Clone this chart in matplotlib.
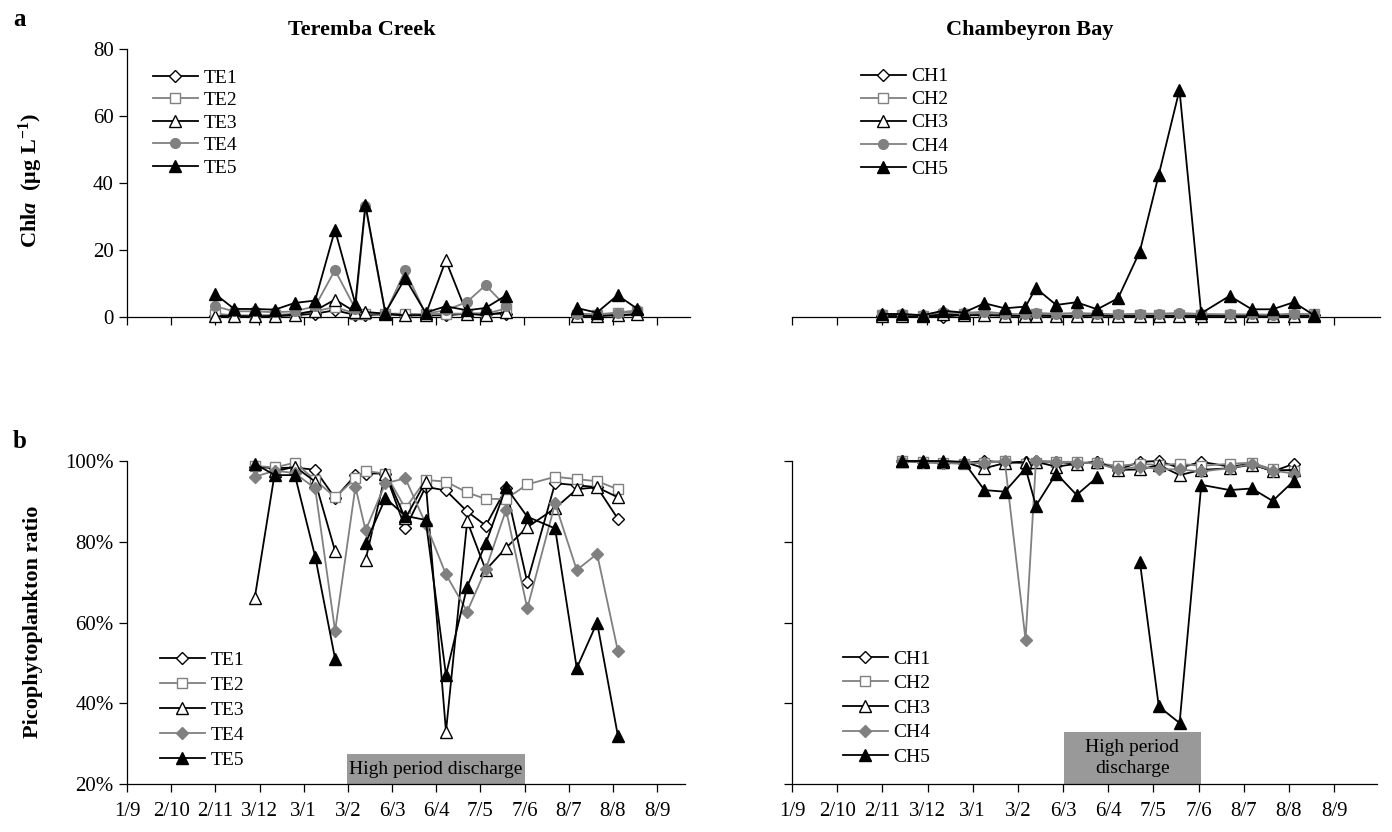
import numpy as np
import matplotlib
matplotlib.use("Agg")
import matplotlib.pyplot as plt
from matplotlib.patches import Rectangle

plt.rcParams["font.family"] = ["Liberation Serif", "DejaVu Serif"]
plt.rcParams["mathtext.fontset"] = "custom"
plt.rcParams["mathtext.rm"] = "Liberation Serif"
plt.rcParams["mathtext.bf"] = "Liberation Serif:bold"
plt.rcParams["mathtext.it"] = "Liberation Serif:italic:bold"

nan = np.nan

# sampling dates, in months after 1 September
DATES = [1.99, 2.43, 2.89, 3.35, 3.80, 4.26, 4.71, 5.17, 5.40, 5.85, 6.30,
         6.76, 7.22, 7.70, 8.12, 8.58, 9.06, 9.69, 10.18, 10.64, 11.11, 11.55]
MONTH_LABELS = ["1/9", "2/10", "2/11", "3/12", "3/1", "3/2", "6/3",
                "6/4", "7/5", "7/6", "8/7", "8/8", "8/9"]

# chl a, Teremba Creek (ug/L)
TE_CHL = {
    "TE1": [0.4, 0.3, 0.3, 0.3, 0.5, 1.0, 2.0, 0.6, 0.6, 0.8, 0.5, 0.5, 0.5, 1.0, 1.0, 1.0, nan, nan, 0.5, 0.5, 0.6, 0.8],
    "TE2": [1.0, 0.5, 0.5, 0.6, 1.0, 1.7, 3.0, 1.0, 1.0, 1.0, 1.0, 0.8, 1.0, 1.0, 1.0, 2.5, nan, nan, 0.6, 0.6, 1.2, 1.5],
    "TE3": [0.2, 0.3, 0.2, 0.3, 0.7, 1.9, 5.2, 1.5, 1.5, 1.0, 0.5, 0.6, 16.9, 1.0, 0.5, 1.5, nan, nan, 0.3, 0.3, 0.5, 0.8],
    "TE4": [3.2, 1.7, 1.7, 1.4, 1.7, 3.2, 14.0, 2.5, 33.0, 1.0, 13.9, 1.0, 2.0, 4.5, 9.5, 3.2, nan, nan, 1.0, 0.8, 1.3, 2.0],
    "TE5": [6.9, 2.4, 2.4, 2.2, 4.2, 4.9, 26.0, 4.0, 33.5, 1.3, 11.6, 1.3, 3.2, 2.0, 2.7, 6.4, nan, nan, 2.7, 1.3, 6.5, 2.5],
}
# chl a, Chambeyron Bay (ug/L)
CH_CHL = {
    "CH1": [0.4, 0.4, 0.3, 0.1, 0.6, 0.5, 0.5, 0.4, 0.5, 0.4, 0.4, 0.5, 0.4, 0.4, 0.4, 0.4, 0.5, 0.4, 0.4, 0.4, 0.5, 0.5],
    "CH2": [0.6, 0.5, 0.4, 1.0, 0.8, 1.0, 0.6, 0.2, 1.0, 0.5, 0.4, 0.6, 0.5, 0.5, 0.5, 0.5, 0.6, 0.5, 0.4, 0.4, 0.6, 0.8],
    "CH3": [0.3, 0.3, 0.2, 0.8, 0.5, 0.6, 0.4, 0.3, 0.4, 0.3, 0.3, 0.4, 0.3, 0.3, 0.3, 0.3, 0.3, 0.3, 0.3, 0.3, 0.3, 0.3],
    "CH4": [1.0, 0.8, 0.6, 1.5, 1.2, 1.6, 1.0, 0.8, 1.2, 1.0, 1.2, 1.0, 0.8, 1.0, 1.0, 1.2, 0.9, 0.8, 0.8, 0.7, 1.0, 0.8],
    "CH5": [0.9, 0.9, 0.5, 1.9, 1.3, 4.1, 2.6, 3.1, 8.6, 3.6, 4.4, 2.3, 5.6, 19.5, 42.4, 67.8, 1.1, 6.3, 2.3, 2.3, 4.4, 0.6],
}
# picophytoplankton ratio, Teremba Creek (%)
TE_PICO = {
    "TE1": [nan, nan, 98.6, 98.2, 98.4, 97.8, 90.8, 96.5, 96.9, 96.9, 83.3, 93.6, 92.7, 87.5, 84.0, 93.2, 70.0, 94.5, 94.0, 93.5, 85.7, nan],
    "TE2": [nan, nan, 98.8, 98.4, 99.6, 95.3, 91.0, 95.7, 97.5, 96.9, 88.3, 95.3, 94.9, 92.2, 90.6, 90.6, 94.2, 96.1, 95.5, 95.0, 93.0, nan],
    "TE3": [nan, nan, 66.0, 97.4, 98.6, 94.9, 77.7, nan, 75.5, 96.9, 85.8, 94.9, 33.0, 85.1, 73.0, 78.5, 83.6, 88.3, 93.0, 93.5, 91.0, nan],
    "TE4": [nan, nan, 96.1, 97.6, 97.0, 93.2, 57.9, 93.6, 82.8, 94.5, 95.7, 84.5, 71.9, 62.7, 73.2, 87.9, 63.5, 89.5, 73.0, 77.0, 53.0, nan],
    "TE5": [nan, nan, 99.3, 96.5, 96.5, 76.3, 51.0, nan, 79.6, 90.8, 86.4, 85.4, 47.0, 68.9, 79.6, 93.5, 86.2, 83.3, 48.7, 60.0, 32.0, nan],
}
# picophytoplankton ratio, Chambeyron Bay (%)
CH_PICO = {
    "CH1": [nan, 100.0, 99.8, 99.5, 99.5, 100.0, 99.7, 99.8, 99.9, 99.8, 99.3, 99.8, 97.8, 99.8, 100.0, 98.3, 99.8, 98.6, 99.3, 97.4, 99.3, nan],
    "CH2": [nan, 100.0, 99.8, 99.5, 99.3, 99.5, 100.0, 99.3, 99.4, 99.8, 99.8, 99.4, 98.8, 99.3, 99.0, 99.3, 98.8, 99.3, 99.6, 97.9, 97.6, nan],
    "CH3": [nan, 100.0, 99.8, 99.7, 99.8, 98.2, 99.5, 99.7, 99.8, 98.6, 99.3, 99.8, 97.8, 97.9, 99.0, 96.5, 97.8, 98.2, 99.1, 97.6, 97.8, nan],
    "CH4": [nan, 100.0, 99.7, 99.5, 99.5, 99.6, 100.0, 55.7, 100.0, 99.8, 99.6, 99.4, 97.9, 98.6, 98.0, 97.9, 97.4, 98.2, 99.3, 97.6, 96.9, nan],
    "CH5": [nan, 100.0, 100.0, 100.0, 99.8, 92.8, 92.4, 98.2, 88.9, 96.9, 91.6, 96.0, nan, 75.1, 39.2, 35.1, 94.1, 92.8, 93.2, 90.1, 95.1, nan],
}

# high discharge period (months after 1 Sept) for each site
DISCHARGE_TE = (4.98, 9.01)
DISCHARGE_CH = (6.02, 9.05)

GRAY = "#808080"
W, H = 1392, 832


def rect(left, right, top, bottom):
    return [left / W, 1 - bottom / H, (right - left) / W, (bottom - top) / H]


def style(idx, top):
    if idx == 1:
        return dict(color="black", marker="D", mfc="white", mec="black", ms=6)
    if idx == 2:
        return dict(color=GRAY, marker="s", mfc="white", mec=GRAY, ms=6.5)
    if idx == 3:
        return dict(color="black", marker="^", mfc="white", mec="black", ms=8)
    if idx == 4:
        return dict(color=GRAY, marker="o" if top else "D", mfc=GRAY, mec=GRAY,
                    ms=7 if top else 6)
    return dict(color="black", marker="^", mfc="black", mec="black", ms=8)


def draw(ax, series, top):
    x = np.asarray(DATES)
    for i, (name, vals) in enumerate(series.items(), start=1):
        ax.plot(x, np.asarray(vals, dtype=float), lw=1.3, mew=1.0,
                label=name, zorder=2 + i, clip_on=False, **style(i, top))


def setup(ax, xmax, show_left=True, labels=False):
    ax.set_xlim(0, xmax)
    for s in ("top", "right"):
        ax.spines[s].set_visible(False)
    ax.spines["left"].set_visible(show_left)
    ax.spines["bottom"].set_linewidth(0.9)
    ax.spines["left"].set_linewidth(0.9)
    ax.set_xticks(range(len(MONTH_LABELS)))
    ax.set_xticklabels(MONTH_LABELS if labels else [])
    ax.tick_params(direction="out", length=6, width=0.9, labelsize=15)
    ax.tick_params(axis="x", pad=7)
    if not show_left:
        ax.tick_params(axis="y", left=False, labelleft=False)


fig = plt.figure(figsize=(W / 100, H / 100), dpi=100)

ax_a1 = fig.add_axes(rect(127, 690, 49, 317))
ax_a2 = fig.add_axes(rect(792, 1380, 49, 317))
ax_b1 = fig.add_axes(rect(127, 685, 461, 784))
ax_b2 = fig.add_axes(rect(792, 1377, 461, 784))

draw(ax_a1, TE_CHL, True)
draw(ax_a2, CH_CHL, True)
draw(ax_b1, TE_PICO, False)
draw(ax_b2, CH_PICO, False)

setup(ax_a1, 12.75)
setup(ax_a2, 13.02, show_left=False)
setup(ax_b1, 12.63, labels=True)
setup(ax_b2, 12.95, labels=True)

for ax in (ax_a1, ax_a2):
    ax.set_ylim(0, 80)
    ax.set_yticks([0, 20, 40, 60, 80])
ax_a2.set_yticklabels([])

pct = [20, 40, 60, 80, 100]
for ax in (ax_b1, ax_b2):
    ax.set_ylim(20, 100)
    ax.set_yticks(pct)
ax_b1.set_yticklabels([f"{p}%" for p in pct])
ax_b2.set_yticklabels([])

# high discharge boxes
ax_b1.add_patch(Rectangle((DISCHARGE_TE[0], 20), DISCHARGE_TE[1] - DISCHARGE_TE[0], 7.4,
                          facecolor="#999999", edgecolor="none", zorder=1))
ax_b1.text(sum(DISCHARGE_TE) / 2, 23.7, "High period discharge", ha="center",
           va="center", fontsize=14, zorder=2)
ax_b2.add_patch(Rectangle((DISCHARGE_CH[0], 20), DISCHARGE_CH[1] - DISCHARGE_CH[0], 12.9,
                          facecolor="#999999", edgecolor="none", zorder=1))
ax_b2.text(sum(DISCHARGE_CH) / 2, 26.4, "High period\ndischarge", ha="center",
           va="center", fontsize=14, linespacing=1.3, zorder=2)

leg_kw = dict(loc="upper left", frameon=False, fontsize=14, handlelength=2.3,
              handletextpad=0.3, borderpad=0, borderaxespad=0)
ax_a1.legend(bbox_to_anchor=(0.046, 0.925), labelspacing=0.25, **leg_kw)
ax_a2.legend(bbox_to_anchor=(0.117, 0.93), labelspacing=0.28, **leg_kw)
ax_b1.legend(bbox_to_anchor=(0.059, 0.41), labelspacing=0.38, **leg_kw)
ax_b2.legend(bbox_to_anchor=(0.087, 0.415), labelspacing=0.36, **leg_kw)

# titles and panel letters
fig.text(362 / W, 1 - 30 / H, "Teremba Creek", ha="center", va="center",
         fontsize=16, fontweight="bold")
fig.text(1030 / W, 1 - 30 / H, "Chambeyron Bay", ha="center", va="center",
         fontsize=16, fontweight="bold")
fig.text(19 / W, 1 - 20 / H, "a", ha="center", va="center", fontsize=18, fontweight="bold")
fig.text(20 / W, 1 - 442 / H, "b", ha="center", va="center", fontsize=18, fontweight="bold")

fig.text(31 / W, 1 - 181 / H,
         r"$\mathbf{Chl}\mathit{a}\ \ \mathbf{(\mu g\ L^{-1})}$",
         rotation=90, ha="center", va="center", fontsize=16)
fig.text(33 / W, 1 - 622 / H, "Picophytoplankton ratio", rotation=90,
         ha="center", va="center", fontsize=16, fontweight="bold")

fig.savefig("out.png", dpi=100)
